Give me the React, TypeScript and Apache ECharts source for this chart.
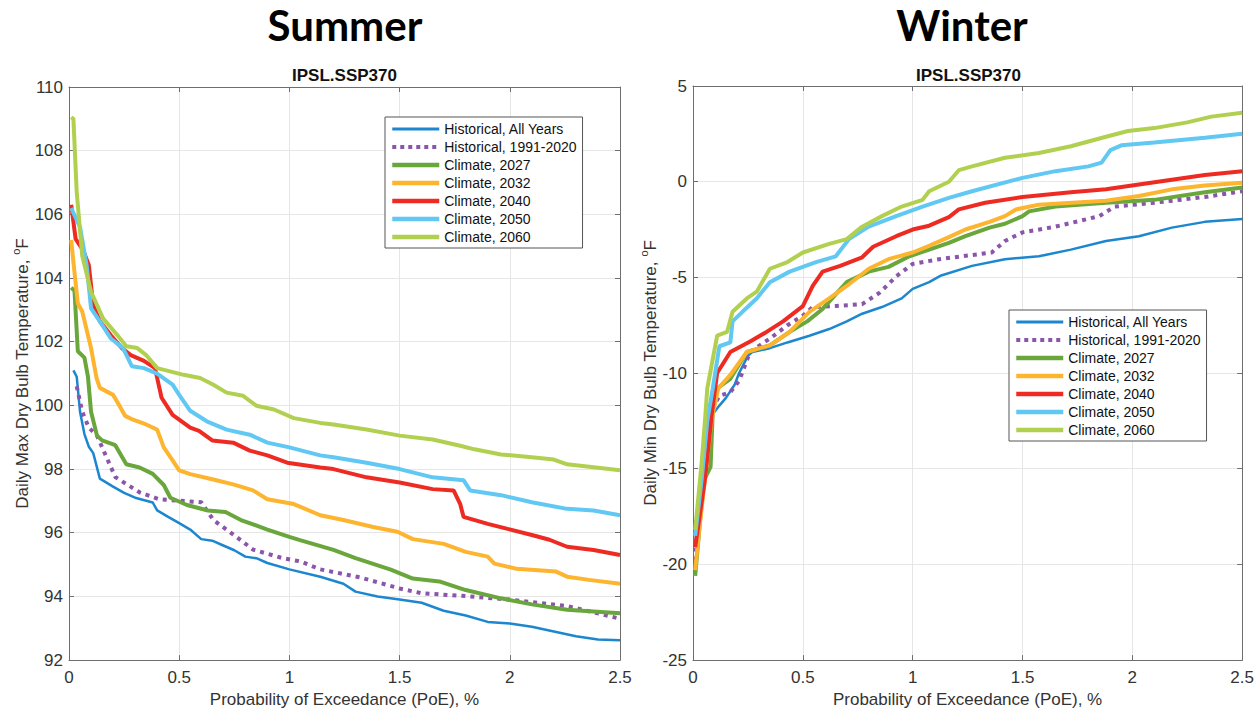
import React, { useEffect, useRef } from 'react';
import * as echarts from 'echarts';

const seriesNames = [
  'Historical, All Years',
  'Historical, 1991-2020',
  'Climate, 2027',
  'Climate, 2032',
  'Climate, 2040',
  'Climate, 2050',
  'Climate, 2060',
];
const seriesColors = ['#1c87cf', '#8a55aa', '#69a73c', '#fdb42e', '#ee2b22', '#60c8f3', '#b2d050'];

const xTicks = [0, 0.5, 1, 1.5, 2, 2.5];

// Summer: PoE (%) vs Daily Max Dry Bulb (F)
const summerHistAll = [[0.02,101.1],[0.035,100.9],[0.05,99.8],[0.07,99.1],[0.09,98.7],[0.11,98.5],[0.14,97.7],[0.2,97.45],[0.25,97.25],[0.3,97.1],[0.38,96.95],[0.4,96.7],[0.45,96.5],[0.5,96.3],[0.55,96.1],[0.6,95.8],[0.65,95.75],[0.7,95.6],[0.75,95.45],[0.8,95.25],[0.85,95.2],[0.9,95.05],[1.0,94.85],[1.14,94.62],[1.245,94.4],[1.3,94.15],[1.4,94.0],[1.5,93.9],[1.6,93.8],[1.7,93.55],[1.8,93.4],[1.9,93.2],[2.0,93.15],[2.1,93.05],[2.2,92.9],[2.3,92.75],[2.4,92.65],[2.5,92.62]];
const summerHist9120 = [[0.035,100.6],[0.06,99.8],[0.09,99.3],[0.127,99.05],[0.21,97.75],[0.32,97.27],[0.41,97.05],[0.6,96.96],[0.655,96.4],[0.76,95.87],[0.835,95.47],[0.97,95.2],[1.05,95.1],[1.14,94.85],[1.32,94.6],[1.5,94.25],[1.6,94.1],[1.82,94.0],[2.0,93.9],[2.26,93.7],[2.41,93.45],[2.5,93.3]];
const summer2027 = [[0.01,103.7],[0.025,103.6],[0.04,101.7],[0.07,101.5],[0.086,100.9],[0.1,99.8],[0.127,99.05],[0.15,98.9],[0.21,98.75],[0.26,98.15],[0.32,98.05],[0.38,97.85],[0.43,97.5],[0.46,97.1],[0.535,96.87],[0.63,96.7],[0.71,96.65],[0.78,96.4],[0.9,96.1],[1.0,95.87],[1.048,95.77],[1.2,95.46],[1.3,95.2],[1.46,94.84],[1.56,94.56],[1.68,94.47],[1.8,94.2],[1.96,93.94],[2.1,93.75],[2.26,93.58],[2.5,93.47]];
const summer2032 = [[0.01,105.2],[0.02,104.5],[0.04,103.2],[0.06,102.95],[0.1,101.8],[0.125,100.86],[0.14,100.55],[0.2,100.33],[0.22,100.1],[0.255,99.67],[0.29,99.55],[0.35,99.4],[0.4,99.24],[0.43,98.68],[0.47,98.27],[0.5,97.96],[0.55,97.84],[0.65,97.68],[0.745,97.52],[0.835,97.33],[0.9,97.05],[1.02,96.9],[1.14,96.55],[1.245,96.4],[1.38,96.18],[1.49,96.03],[1.56,95.8],[1.7,95.65],[1.8,95.4],[1.9,95.25],[1.93,95.03],[2.03,94.87],[2.21,94.78],[2.26,94.62],[2.36,94.52],[2.5,94.4]];
const summer2040 = [[0.01,106.3],[0.03,105.23],[0.065,104.86],[0.09,104.4],[0.11,103.14],[0.14,102.64],[0.19,102.2],[0.24,101.8],[0.28,101.58],[0.34,101.4],[0.39,101.17],[0.41,100.55],[0.42,100.24],[0.47,99.7],[0.55,99.3],[0.59,99.2],[0.65,98.9],[0.745,98.83],[0.82,98.58],[0.9,98.43],[0.99,98.2],[1.14,98.05],[1.2,98.0],[1.35,97.74],[1.5,97.58],[1.65,97.37],[1.745,97.33],[1.775,96.9],[1.79,96.5],[1.9,96.28],[1.99,96.12],[2.1,95.93],[2.18,95.78],[2.26,95.56],[2.38,95.46],[2.5,95.3]];
const summer2050 = [[0.01,106.2],[0.05,105.6],[0.08,104.4],[0.1,103.05],[0.14,102.64],[0.19,102.1],[0.245,101.8],[0.285,101.23],[0.34,101.17],[0.4,101.0],[0.47,100.65],[0.5,100.33],[0.55,99.83],[0.625,99.5],[0.715,99.24],[0.82,99.08],[0.9,98.83],[1.0,98.68],[1.14,98.43],[1.2,98.37],[1.35,98.2],[1.5,98.0],[1.65,97.74],[1.79,97.65],[1.82,97.33],[1.96,97.18],[2.1,96.96],[2.26,96.75],[2.38,96.7],[2.5,96.55]];
const summer2060 = [[0.01,109.05],[0.02,109.0],[0.035,106.7],[0.06,104.7],[0.1,103.57],[0.155,102.73],[0.22,102.2],[0.26,101.86],[0.31,101.8],[0.35,101.58],[0.4,101.17],[0.52,100.96],[0.595,100.86],[0.655,100.65],[0.715,100.4],[0.79,100.3],[0.85,99.99],[0.93,99.87],[1.02,99.6],[1.14,99.45],[1.2,99.4],[1.35,99.24],[1.5,99.05],[1.65,98.93],[1.77,98.74],[1.84,98.62],[1.96,98.46],[2.1,98.37],[2.2,98.3],[2.26,98.15],[2.5,97.96]];

// Winter: PoE (%) vs Daily Min Dry Bulb (F)
const winterHistAll = [[0.01,-19.0],[0.03,-16.0],[0.05,-14.0],[0.08,-12.3],[0.12,-11.7],[0.15,-11.3],[0.19,-10.6],[0.21,-10.0],[0.25,-9.1],[0.27,-8.9],[0.35,-8.7],[0.43,-8.4],[0.53,-8.05],[0.62,-7.7],[0.7,-7.3],[0.77,-6.9],[0.86,-6.55],[0.95,-6.1],[1.0,-5.6],[1.075,-5.25],[1.13,-4.9],[1.27,-4.4],[1.42,-4.05],[1.575,-3.9],[1.72,-3.55],[1.88,-3.1],[2.03,-2.85],[2.18,-2.4],[2.33,-2.1],[2.5,-1.95]];
const winterHist9120 = [[0.01,-19.8],[0.03,-16.5],[0.05,-14.0],[0.08,-12.0],[0.12,-11.2],[0.17,-11.0],[0.21,-10.4],[0.26,-8.9],[0.35,-8.2],[0.43,-7.5],[0.5,-7.0],[0.545,-6.55],[0.65,-6.5],[0.77,-6.4],[0.85,-5.8],[0.925,-4.95],[1.0,-4.3],[1.12,-4.05],[1.36,-3.7],[1.42,-3.1],[1.5,-2.65],[1.65,-2.35],[1.85,-1.8],[1.92,-1.3],[2.1,-1.1],[2.33,-0.8],[2.5,-0.5]];
const winter2027 = [[0.01,-20.6],[0.03,-18.0],[0.05,-15.6],[0.08,-14.9],[0.09,-12.0],[0.11,-10.8],[0.17,-10.3],[0.245,-8.9],[0.35,-8.55],[0.44,-7.85],[0.52,-7.3],[0.59,-6.65],[0.7,-5.25],[0.8,-4.7],[0.89,-4.45],[0.985,-3.9],[1.075,-3.55],[1.165,-3.2],[1.24,-2.85],[1.35,-2.4],[1.42,-2.2],[1.5,-1.8],[1.53,-1.55],[1.65,-1.3],[1.88,-1.1],[2.1,-0.95],[2.33,-0.55],[2.5,-0.3]];
const winter2032 = [[0.01,-20.3],[0.03,-18.0],[0.055,-15.5],[0.085,-12.4],[0.115,-10.8],[0.17,-10.1],[0.245,-8.9],[0.35,-8.55],[0.44,-7.85],[0.53,-6.8],[0.62,-6.1],[0.7,-5.45],[0.8,-4.55],[0.89,-4.05],[1.0,-3.7],[1.075,-3.35],[1.165,-2.9],[1.24,-2.5],[1.35,-2.1],[1.42,-1.8],[1.47,-1.45],[1.575,-1.2],[1.88,-1.0],[2.03,-0.75],[2.18,-0.4],[2.33,-0.2],[2.5,-0.05]];
const winter2040 = [[0.01,-19.1],[0.03,-17.5],[0.055,-15.5],[0.085,-12.2],[0.11,-10.0],[0.17,-8.9],[0.26,-8.35],[0.335,-7.85],[0.41,-7.3],[0.5,-6.5],[0.545,-5.45],[0.59,-4.7],[0.67,-4.4],[0.77,-3.95],[0.82,-3.4],[0.925,-2.85],[1.0,-2.5],[1.075,-2.3],[1.165,-1.85],[1.21,-1.45],[1.33,-1.1],[1.5,-0.8],[1.72,-0.55],[1.88,-0.4],[2.03,-0.15],[2.18,0.1],[2.33,0.35],[2.5,0.55]];
const winter2050 = [[0.01,-18.5],[0.04,-15.5],[0.065,-12.5],[0.09,-10.8],[0.12,-8.6],[0.17,-8.4],[0.18,-7.3],[0.225,-6.8],[0.29,-6.1],[0.35,-5.25],[0.44,-4.7],[0.56,-4.2],[0.65,-3.9],[0.71,-3.0],[0.8,-2.35],[0.925,-1.8],[1.045,-1.3],[1.165,-0.85],[1.27,-0.5],[1.5,0.2],[1.65,0.55],[1.8,0.8],[1.86,1.0],[1.9,1.65],[1.95,1.9],[2.1,2.05],[2.33,2.3],[2.5,2.5]];
const winter2060 = [[0.01,-18.2],[0.04,-14.6],[0.055,-12.4],[0.065,-10.8],[0.11,-8.05],[0.155,-7.85],[0.18,-6.8],[0.245,-6.1],[0.29,-5.75],[0.35,-4.55],[0.43,-4.2],[0.5,-3.7],[0.62,-3.25],[0.7,-3.0],[0.77,-2.35],[0.86,-1.8],[0.95,-1.3],[1.045,-0.95],[1.075,-0.5],[1.165,0.0],[1.21,0.6],[1.27,0.8],[1.42,1.25],[1.575,1.5],[1.72,1.85],[1.88,2.35],[1.98,2.65],[2.1,2.8],[2.25,3.1],[2.36,3.4],[2.5,3.6]];

const summerSeries = [summerHistAll, summerHist9120, summer2027, summer2032, summer2040, summer2050, summer2060];
const winterSeries = [winterHistAll, winterHist9120, winter2027, winter2032, winter2040, winter2050, winter2060];

const FONT = '"Liberation Sans", Arial, Helvetica, sans-serif';
const AXIS_COLOR = '#6e6e6e';
const LABEL_COLOR = '#333333';

function lineStyleFor(i: number): any {
  if (i === 0) return { color: seriesColors[i], width: 2.5 };
  if (i === 1) return { color: seriesColors[i], width: 4, type: [4, 5], cap: 'butt' };
  return { color: seriesColors[i], width: 4 };
}

function buildSeries(data: number[][][], xIdx: number, yIdx: number) {
  return data.map((d, i) => ({
    type: 'line',
    name: seriesNames[i],
    data: d,
    xAxisIndex: xIdx,
    yAxisIndex: yIdx,
    symbol: 'none',
    showSymbol: false,
    lineStyle: lineStyleFor(i),
    itemStyle: { color: seriesColors[i] },
    emphasis: { disabled: true },
  }));
}

function xAxes(gridIndex: number) {
  return [
    {
      type: 'value', gridIndex, min: xTicks[0], max: xTicks[xTicks.length - 1], interval: 0.5, position: 'bottom',
      name: 'Probability of Exceedance (PoE), %', nameLocation: 'middle', nameGap: 29,
      nameTextStyle: { fontFamily: FONT, fontSize: 17, color: LABEL_COLOR },
      axisLine: { show: true, onZero: false, lineStyle: { color: AXIS_COLOR, width: 1 } },
      axisTick: { show: true, inside: true, length: 5, lineStyle: { color: AXIS_COLOR } },
      axisLabel: { fontFamily: FONT, fontSize: 17, color: LABEL_COLOR, margin: 9 },
      splitLine: { show: true, lineStyle: { color: '#e6e6e6', width: 1 } },
    },
    {
      type: 'value', gridIndex, min: xTicks[0], max: xTicks[xTicks.length - 1], interval: 0.5, position: 'top',
      axisLine: { show: true, onZero: false, lineStyle: { color: AXIS_COLOR, width: 1 } },
      axisTick: { show: true, inside: true, length: 5, lineStyle: { color: AXIS_COLOR } },
      axisLabel: { show: false },
      splitLine: { show: false },
    },
  ];
}

function yAxes(gridIndex: number, min: number, max: number, interval: number, label: string, nameGap: number) {
  return [
    {
      type: 'value', gridIndex, min, max, interval, position: 'left',
      name: `{n|${label}}{s|o}{n|F}`, nameLocation: 'middle', nameGap, nameRotate: 90,
      nameTextStyle: {
        rich: {
          n: { fontFamily: FONT, fontSize: 17, color: LABEL_COLOR, lineHeight: 24, verticalAlign: 'middle' },
          s: { fontFamily: FONT, fontSize: 11, color: LABEL_COLOR, lineHeight: 10, verticalAlign: 'top' },
        },
      },
      axisLine: { show: true, onZero: false, lineStyle: { color: AXIS_COLOR, width: 1 } },
      axisTick: { show: true, inside: true, length: 5, lineStyle: { color: AXIS_COLOR } },
      axisLabel: { fontFamily: FONT, fontSize: 17, color: LABEL_COLOR, margin: 6 },
      splitLine: { show: true, lineStyle: { color: '#e6e6e6', width: 1 } },
    },
    {
      type: 'value', gridIndex, min, max, interval, position: 'right',
      axisLine: { show: true, onZero: false, lineStyle: { color: AXIS_COLOR, width: 1 } },
      axisTick: { show: true, inside: true, length: 5, lineStyle: { color: AXIS_COLOR } },
      axisLabel: { show: false },
      splitLine: { show: false },
    },
  ];
}

function legendAt(left: number, top: number) {
  return {
    show: true,
    data: seriesNames.map((name, i) => ({
      name,
      itemStyle: { opacity: 0, borderWidth: 0 },
      lineStyle: i === 1
        ? { color: seriesColors[i], width: 4, type: [4, 4], cap: 'butt', opacity: 1 }
        : { color: seriesColors[i], width: i === 0 ? 3 : 4.5, opacity: 1 },
    })),
    orient: 'vertical',
    left, top,
    padding: [4, 6, 3, 5],
    itemWidth: 47,
    itemHeight: 10,
    itemGap: 2,
    selectedMode: false,
    backgroundColor: '#ffffff',
    borderColor: '#555555',
    borderWidth: 1,
    borderRadius: 0,
    itemStyle: { opacity: 0, borderWidth: 0 },
    textStyle: { fontFamily: FONT, fontSize: 14, color: '#111111', lineHeight: 16 },
  };
}

export default function App() {
  const ref = useRef<HTMLDivElement>(null);
  useEffect(() => {
    if (!ref.current) return;
    const chart = echarts.init(ref.current, null, { renderer: 'svg' });
    const option: any = {
      animation: false,
      backgroundColor: '#ffffff',
      grid: [
        { left: 69, top: 87, width: 551, height: 577, containLabel: false },
        { left: 693, top: 86, width: 551, height: 578, containLabel: false },
      ],
      xAxis: [...xAxes(0), ...xAxes(1)],
      yAxis: [
        ...yAxes(0, 92, 110, 2, 'Daily Max Dry Bulb Temperature, ', 35),
        ...yAxes(1, -25, 5, 5, 'Daily Min Dry Bulb Temperature, ', 31),
      ],
      legend: [legendAt(385, 117), legendAt(1009, 310)],
      graphic: [
        { type: 'text', style: { text: 'Summer', x: 345, y: 25, font: 'bold 42px Lato, "Open Sans", sans-serif', fill: '#000', textAlign: 'center', textVerticalAlign: 'middle', align: 'center', verticalAlign: 'middle' } },
        { type: 'text', style: { text: 'Winter', x: 962, y: 25, font: 'bold 42px Lato, "Open Sans", sans-serif', fill: '#000', textAlign: 'center', textVerticalAlign: 'middle', align: 'center', verticalAlign: 'middle' } },
        { type: 'text', style: { text: 'IPSL.SSP370', x: 344.5, y: 75, font: `bold 17px ${FONT}`, fill: '#111', textAlign: 'center', textVerticalAlign: 'middle', align: 'center', verticalAlign: 'middle' } },
        { type: 'text', style: { text: 'IPSL.SSP370', x: 968.5, y: 75, font: `bold 17px ${FONT}`, fill: '#111', textAlign: 'center', textVerticalAlign: 'middle', align: 'center', verticalAlign: 'middle' } },
      ],
      series: [...buildSeries(summerSeries, 0, 0), ...buildSeries(winterSeries, 2, 2)],
    };
    chart.setOption(option);
    return () => chart.dispose();
  }, []);
  return (
    <div
      ref={ref}
      style={{ position: 'fixed', left: 0, top: 0, width: 1257, height: 713, background: '#fff' }}
    />
  );
}
